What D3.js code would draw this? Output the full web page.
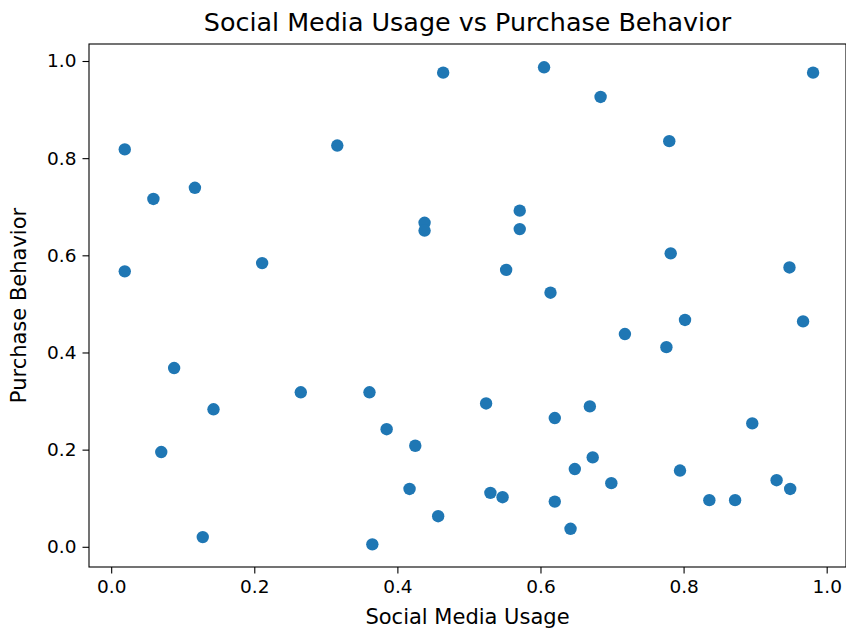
<!DOCTYPE html>
<html>
<head>
<meta charset="utf-8">
<script src="https://cdn.jsdelivr.net/npm/d3@7"></script>
<style>
  html, body { margin: 0; padding: 0; background: #fff; }
  svg { display: block; }
  text { font-family: "DejaVu Sans", sans-serif; fill: #000; }
</style>
</head>
<body>
<svg id="chart" width="846" height="630"></svg>
<script>
const title = "Social Media Usage vs Purchase Behavior";
const xLabel = "Social Media Usage";
const yLabel = "Purchase Behavior";

const socialMediaUsage = [
  0.019, 0.019, 0.059, 0.117, 0.088, 0.070, 0.143, 0.128, 0.211, 0.265,
  0.316, 0.361, 0.385, 0.365, 0.425, 0.417, 0.438, 0.438, 0.464, 0.457,
  0.524, 0.530, 0.547, 0.552, 0.571, 0.571, 0.605, 0.614, 0.620, 0.620,
  0.642, 0.648, 0.669, 0.673, 0.684, 0.699, 0.718, 0.776, 0.780, 0.782,
  0.795, 0.802, 0.836, 0.872, 0.896, 0.930, 0.949, 0.948, 0.967, 0.981
];
const purchaseBehavior = [
  0.818, 0.567, 0.716, 0.739, 0.368, 0.195, 0.283, 0.020, 0.584, 0.318,
  0.826, 0.318, 0.242, 0.005, 0.208, 0.119, 0.667, 0.651, 0.976, 0.063,
  0.295, 0.111, 0.102, 0.570, 0.692, 0.654, 0.987, 0.523, 0.265, 0.093,
  0.037, 0.160, 0.289, 0.184, 0.926, 0.131, 0.438, 0.411, 0.835, 0.604,
  0.157, 0.467, 0.096, 0.096, 0.254, 0.137, 0.119, 0.575, 0.464, 0.976
];
const xTicks = [0.0, 0.2, 0.4, 0.6, 0.8, 1.0];
const yTicks = [0.0, 0.2, 0.4, 0.6, 0.8, 1.0];

const points = socialMediaUsage.map((x, i) => ({ x, y: purchaseBehavior[i] }));

const svg = d3.select("#chart");
const plot = { left: 89, right: 846, top: 44, bottom: 567 };

const x = d3.scaleLinear().domain([-0.031, 1.027]).range([plot.left, plot.right]);
const y = d3.scaleLinear().domain([-0.0416, 1.035]).range([plot.bottom, plot.top]);

// points
svg.append("g")
  .selectAll("circle")
  .data(points)
  .join("circle")
  .attr("cx", d => x(d.x))
  .attr("cy", d => y(d.y))
  .attr("r", 6.2)
  .attr("fill", "#1f77b4");

const fmt = d3.format(".1f");

// x axis
const xAxis = svg.append("g")
  .attr("transform", `translate(0,${plot.bottom})`)
  .call(d3.axisBottom(x).tickValues(xTicks).tickFormat(fmt).tickSize(6.5).tickPadding(6));
xAxis.select(".domain").remove();
xAxis.selectAll(".tick line").attr("stroke", "#000").attr("stroke-width", 1.1);
xAxis.selectAll(".tick text").attr("font-size", 18.5).attr("font-family", "DejaVu Sans").attr("fill", "#000");

// y axis
const yAxis = svg.append("g")
  .attr("transform", `translate(${plot.left},0)`)
  .call(d3.axisLeft(y).tickValues(yTicks).tickFormat(fmt).tickSize(6.5).tickPadding(6));
yAxis.select(".domain").remove();
yAxis.selectAll(".tick line").attr("stroke", "#000").attr("stroke-width", 1.1);
yAxis.selectAll(".tick text").attr("font-size", 18.5).attr("font-family", "DejaVu Sans").attr("fill", "#000");

// spines
svg.append("rect")
  .attr("x", plot.left)
  .attr("y", plot.top)
  .attr("width", plot.right - plot.left)
  .attr("height", plot.bottom - plot.top)
  .attr("fill", "none")
  .attr("stroke", "#000")
  .attr("stroke-width", 1.1);

// title
svg.append("text")
  .attr("x", (plot.left + plot.right) / 2)
  .attr("y", 31)
  .attr("text-anchor", "middle")
  .attr("font-size", 25.4)
  .text(title);

// x label
svg.append("text")
  .attr("x", (plot.left + plot.right) / 2)
  .attr("y", 624)
  .attr("text-anchor", "middle")
  .attr("font-size", 21)
  .text(xLabel);

// y label
svg.append("text")
  .attr("transform", `translate(26,${(plot.top + plot.bottom) / 2}) rotate(-90)`)
  .attr("text-anchor", "middle")
  .attr("font-size", 21)
  .text(yLabel);
</script>
</body>
</html>
